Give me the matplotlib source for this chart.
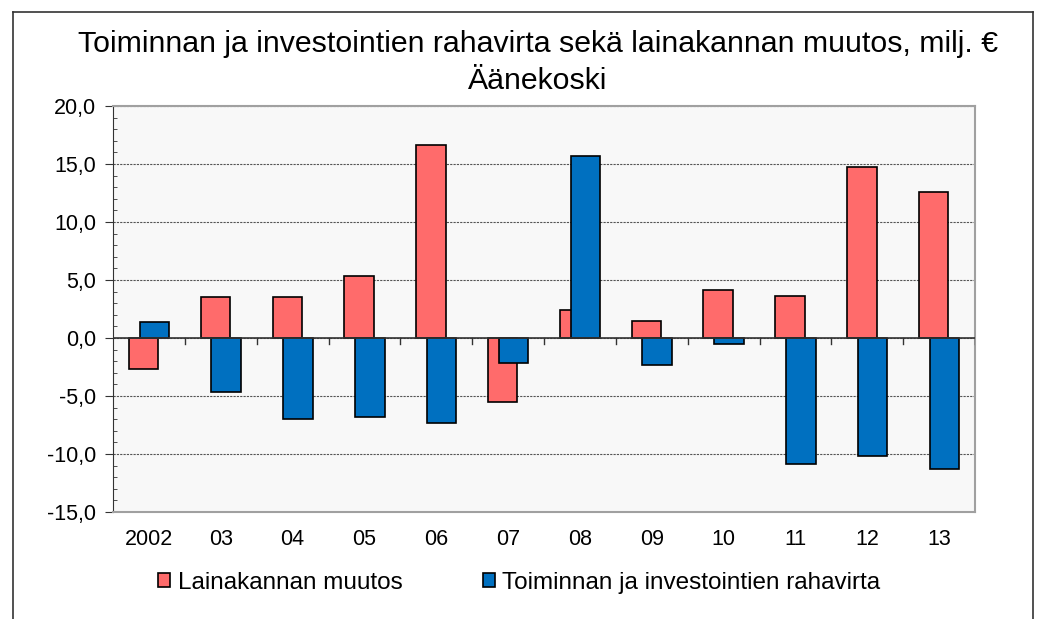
import numpy as np
import matplotlib.pyplot as plt
from matplotlib.lines import Line2D
from matplotlib.ticker import MultipleLocator, FuncFormatter

plt.rcParams["font.family"] = ["Liberation Sans", "DejaVu Sans"]

years = ["2002", "03", "04", "05", "06", "07", "08", "09", "10", "11", "12", "13"]
lainakanta = [-2.7, 3.5, 3.5, 5.3, 16.6, -5.5, 2.4, 1.5, 4.1, 3.6, 14.7, 12.6]
rahavirta = [1.4, -4.7, -7.0, -6.8, -7.3, -2.2, 15.7, -2.3, -0.5, -10.9, -10.2, -11.3]

RED = "#ff6b6b"
BLUE = "#0070c0"


def main():
    fig = plt.figure(figsize=(10.4, 6.19), dpi=100)
    ax = fig.add_axes([0.1087, 0.1729, 0.8288, 0.6559])
    ax.set_facecolor("#f8f8f8")
    x = np.arange(len(years))
    w = 0.41
    ax.bar(x - 0.075, lainakanta, w, color=RED, edgecolor="#000000",
           linewidth=1.2, zorder=3, label="Lainakannan muutos")
    ax.bar(x + 0.075, rahavirta, w, color=BLUE, edgecolor="#000000",
           linewidth=1.2, zorder=4, label="Toiminnan ja investointien rahavirta")

    ax.set_xlim(-0.5, len(years) - 0.5)
    ax.set_ylim(-15, 20)
    ax.yaxis.set_major_locator(MultipleLocator(5))
    ax.yaxis.set_minor_locator(MultipleLocator(1))
    ax.yaxis.set_major_formatter(FuncFormatter(lambda v, p: f"{v:.1f}".replace(".", ",")))
    ax.tick_params(axis="y", which="major", direction="out", length=6,
                   labelsize=15.5, pad=6, color="#333333")
    ax.tick_params(axis="y", which="minor", direction="in", length=3,
                   color="#333333")
    ax.grid(axis="y", which="major", linestyle=(0, (2, 1)), color="#555555",
            linewidth=0.8, zorder=1)

    # x labels at bottom, tick marks on the zero line
    ax.set_xticks(x)
    ax.set_xticklabels(years)
    ax.tick_params(axis="x", length=0, labelsize=15.5, pad=12)
    ax.axhline(0, color="#333333", linewidth=1.2, zorder=5)
    for xi in np.arange(0.5, len(years) - 0.5 + 0.01, 1.0):
        ax.plot([xi, xi], [0, -0.5], color="#333333", linewidth=1, zorder=5)

    for side in ["top", "right", "bottom"]:
        ax.spines[side].set_color("#a0a0a0")
        ax.spines[side].set_linewidth(1.5)
    ax.spines["left"].set_color("#333333")

    fig.suptitle("Toiminnan ja investointien rahavirta sekä lainakannan muutos, milj. €\nÄänekoski",
                 fontsize=21.8, x=0.517, y=0.952, linespacing=1.42)

    ax.legend(loc="center left", bbox_to_anchor=(0.027, -0.175), ncol=2,
              frameon=False, fontsize=17.5, handlelength=0.5, handleheight=0.5,
              handletextpad=0.3, columnspacing=3.3)

    # outer frame
    fig.add_artist(Line2D([13 / 1040, 13 / 1040], [0, 1 - 12 / 619],
                          transform=fig.transFigure, color="#333333", linewidth=1.2))
    fig.add_artist(Line2D([13 / 1040, 1033 / 1040], [1 - 12 / 619, 1 - 12 / 619],
                          transform=fig.transFigure, color="#333333", linewidth=1.2))
    fig.add_artist(Line2D([1033 / 1040, 1033 / 1040], [0, 1 - 12 / 619],
                          transform=fig.transFigure, color="#333333", linewidth=1.2))

    fig.savefig("out.png", dpi=100)


if __name__ == "__main__":
    main()
